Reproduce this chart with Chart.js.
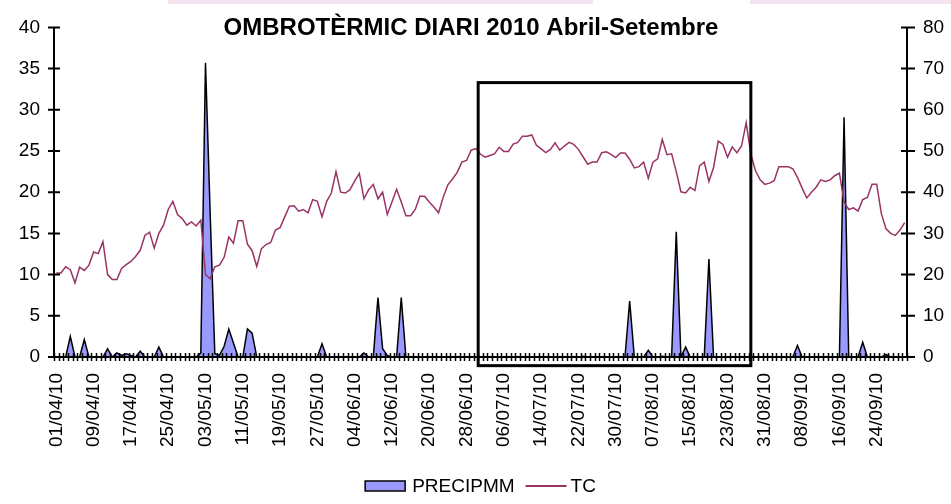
<!DOCTYPE html>
<html>
<head>
<meta charset="utf-8">
<script src="https://cdn.jsdelivr.net/npm/chart.js@4.4.1/dist/chart.umd.min.js"></script>
<style>
  html, body { margin: 0; padding: 0; background: #fff; }
  #wrap { position: relative; width: 951px; height: 504px; }
  .band { position: absolute; top: 0; height: 4px; background: #f3e4ef; }
</style>
</head>
<body>
<div id="wrap">
  <canvas id="chart" width="951" height="504"></canvas>
  <div class="band" style="left:168px;width:425px"></div>
  <div class="band" style="left:750px;width:201px"></div>
</div>
<script>
// daily categories 01/04/10 .. 30/09/10
const days = [];
for (let i = 0; i < 183; i++) {
    const d = new Date(Date.UTC(2010, 3, 1 + i));
    const dd = String(d.getUTCDate()).padStart(2, '0');
    const mm = String(d.getUTCMonth() + 1).padStart(2, '0');
    days.push(dd + '/' + mm + '/10');
}

const tickLabels = ['01/04/10', '09/04/10', '17/04/10', '25/04/10', '03/05/10', '11/05/10',
    '19/05/10', '27/05/10', '04/06/10', '12/06/10', '20/06/10', '28/06/10', '06/07/10',
    '14/07/10', '22/07/10', '30/07/10', '07/08/10', '15/08/10', '23/08/10', '31/08/10',
    '08/09/10', '16/09/10', '24/09/10'];

// precipitation, mm (left axis)
const precip = [
    0, 0, 0, 2.5, 0, 0, 2.1, 0, 0, 0,
    0, 1.0, 0, 0.5, 0.2, 0.4, 0.2, 0, 0.7, 0,
    0, 0, 1.2, 0, 0, 0, 0, 0, 0, 0,
    0, 0.5, 35.7, 17.5, 0.4, 0.2, 1.3, 3.4, 1.7, 0,
    0, 3.4, 2.9, 0, 0, 0, 0, 0, 0, 0,
    0, 0, 0, 0, 0, 0, 0, 1.6, 0, 0,
    0, 0, 0, 0, 0, 0, 0.5, 0, 0, 7.2,
    1.0, 0.2, 0, 0, 7.2, 0, 0, 0, 0, 0,
    0, 0, 0, 0, 0, 0, 0, 0, 0, 0,
    0, 0, 0, 0, 0, 0, 0, 0, 0, 0,
    0, 0, 0, 0, 0, 0, 0, 0, 0, 0,
    0, 0, 0, 0.1, 0, 0, 0, 0, 0, 0,
    0, 0, 0, 6.8, 0, 0, 0, 0.8, 0, 0,
    0.1, 0, 0, 15.2, 0, 1.2, 0, 0, 0, 0,
    11.9, 0, 0, 0, 0, 0, 0, 0, 0, 0,
    0, 0, 0, 0, 0, 0, 0, 0, 0, 1.4,
    0, 0, 0, 0, 0, 0, 0, 0, 0, 29.1,
    0, 0, 0, 1.8, 0, 0, 0, 0, 0.3, 0,
    0, 0, 0
];

// temperature (right axis)
const tc = [
    20.4, 20.4, 21.9, 21.2, 18.0, 21.8, 21.0, 22.3, 25.5, 25.1,
    28.0, 20.0, 18.8, 18.8, 21.5, 22.4, 23.2, 24.4, 25.9, 29.5,
    30.3, 26.4, 30.0, 32.0, 35.8, 37.8, 34.6, 33.6, 32.0, 32.8,
    31.8, 33.2, 20.0, 19.0, 21.9, 22.3, 24.2, 29.1, 27.6, 33.1,
    33.1, 27.4, 25.8, 22.0, 26.3, 27.3, 27.8, 30.8, 31.4, 34.0,
    36.6, 36.7, 35.4, 35.8, 35.0, 38.2, 37.8, 34.0, 37.8, 39.8,
    45.0, 40.0, 39.8, 40.6, 42.7, 44.6, 38.4, 40.6, 41.9, 38.4,
    40.0, 34.6, 37.6, 40.7, 37.6, 34.3, 34.3, 35.8, 39.0, 39.0,
    37.6, 36.4, 35.0, 38.8, 41.8, 43.2, 44.8, 47.3, 47.7, 50.2,
    50.6, 49.2, 48.5, 48.9, 49.3, 50.9, 49.9, 49.9, 51.7, 52.1,
    53.6, 53.6, 53.9, 51.4, 50.5, 49.6, 50.4, 52.0, 50.2, 51.2,
    52.1, 51.6, 50.4, 48.6, 46.8, 47.3, 47.3, 49.6, 49.8, 49.2,
    48.4, 49.5, 49.5, 48.0, 45.9, 46.2, 47.3, 43.4, 47.3, 48.1,
    52.8, 49.1, 49.3, 45.0, 40.1, 39.8, 41.2, 40.4, 46.4, 47.3,
    42.6, 46.0, 52.4, 51.6, 48.5, 51.0, 49.6, 51.2, 56.9, 49.2,
    45.2, 43.0, 41.9, 42.2, 42.8, 46.2, 46.2, 46.2, 45.7, 43.6,
    41.0, 38.6, 40.0, 41.2, 43.0, 42.6, 43.0, 44.0, 44.6, 37.6,
    35.8, 36.2, 35.4, 38.2, 38.7, 41.9, 41.9, 34.8, 31.1, 30.0,
    29.5, 30.8, 32.6
];

// highlighted period (category index, left-axis units)
const boxX = [90.5, 149];
const boxY = [-1.05, 33.3];

const FONT = '"Liberation Sans", Arial, sans-serif';
const TITLE = 'OMBROTÈRMIC DIARI 2010 Abril-Setembre';

const decor = {
    id: 'decor',
    afterDatasetsDraw(chart) {
        const { ctx, chartArea: a } = chart;
        const { x, y, y1 } = chart.scales;
        ctx.save();
        ctx.strokeStyle = '#000';

        // axis lines
        ctx.lineWidth = 2;
        ctx.beginPath();
        ctx.moveTo(a.left, a.top); ctx.lineTo(a.left, a.bottom);
        ctx.moveTo(a.right, a.top); ctx.lineTo(a.right, a.bottom);
        ctx.moveTo(a.left, a.bottom); ctx.lineTo(a.right, a.bottom);
        ctx.stroke();

        // crossing tick marks
        ctx.lineWidth = 1.5;
        ctx.beginPath();
        for (let i = 0; i <= days.length; i++) {
            const px = Math.round(x.getPixelForValue(i - 0.5)) + 0.5;
            ctx.moveTo(px, a.bottom - 4); ctx.lineTo(px, a.bottom + 4);
        }
        ctx.stroke();
        ctx.lineWidth = 2;
        ctx.beginPath();
        y.ticks.forEach(t => {
            const py = y.getPixelForValue(t.value);
            ctx.moveTo(a.left - 6, py); ctx.lineTo(a.left + 6, py);
        });
        y1.ticks.forEach(t => {
            const py = y1.getPixelForValue(t.value);
            ctx.moveTo(a.right - 6, py); ctx.lineTo(a.right + 8, py);
        });
        ctx.stroke();

        // box around summer period
        const bx0 = x.getPixelForValue(boxX[0]), bx1 = x.getPixelForValue(boxX[1]);
        const by0 = y.getPixelForValue(boxY[1]), by1 = y.getPixelForValue(boxY[0]);
        ctx.lineWidth = 3;
        ctx.strokeRect(bx0, by0, bx1 - bx0, by1 - by0);
        ctx.restore();
    },
    afterDraw(chart) {
        const { ctx, chartArea: a } = chart;
        ctx.save();
        // title
        ctx.fillStyle = '#000';
        ctx.font = 'bold 24px ' + FONT;
        ctx.textAlign = 'center';
        ctx.textBaseline = 'alphabetic';
        ctx.fillText(TITLE, chart.width / 2 - 4.5, 35);

        // legend
        ctx.font = '19px ' + FONT;
        const ds = chart.data.datasets;
        const w0 = ctx.measureText(ds[0].label).width;
        const w1 = ctx.measureText(ds[1].label).width;
        const total = 40 + 7 + w0 + 11 + 41 + 4 + w1;
        let lx = (a.left + a.right) / 2 - total / 2;
        const ly = 486;
        ctx.fillStyle = ds[0].backgroundColor;
        ctx.fillRect(lx, ly - 5, 40, 10);
        ctx.lineWidth = 1.5;
        ctx.strokeStyle = '#000';
        ctx.strokeRect(lx, ly - 5, 40, 10);
        lx += 47;
        ctx.fillStyle = '#000';
        ctx.textAlign = 'left';
        ctx.textBaseline = 'middle';
        ctx.fillText(ds[0].label, lx, ly + 1);
        lx += w0 + 11;
        ctx.strokeStyle = ds[1].borderColor;
        ctx.lineWidth = 2;
        ctx.beginPath();
        ctx.moveTo(lx, ly); ctx.lineTo(lx + 41, ly);
        ctx.stroke();
        lx += 45;
        ctx.fillText(ds[1].label, lx, ly + 1);
        ctx.restore();
    }
};

new Chart(document.getElementById('chart'), {
    type: 'line',
    data: {
        labels: days,
        datasets: [
            { label: 'PRECIPMM', data: precip, yAxisID: 'y', fill: 'origin',
              backgroundColor: '#9999ff', borderColor: '#000', borderWidth: 1.5,
              pointRadius: 0, tension: 0, order: 2 },
            { label: 'TC', data: tc, yAxisID: 'y1', fill: false,
              borderColor: '#993366', borderWidth: 1.5,
              pointRadius: 0, tension: 0, order: 1 }
        ]
    },
    options: {
        responsive: false,
        animation: false,
        devicePixelRatio: 1,
        layout: { padding: { top: 23, left: 0, right: 0, bottom: 0 } },
        plugins: { legend: { display: false }, title: { display: false }, tooltip: { enabled: false } },
        scales: {
            x: {
                type: 'category',
                offset: true,
                grid: { display: false, drawTicks: false },
                border: { display: false },
                ticks: {
                    autoSkip: false, minRotation: 90, maxRotation: 90, padding: 16,
                    color: '#000', font: { family: FONT, size: 19 },
                    callback: (v, i) => tickLabels.includes(days[i]) ? days[i] : null
                },
                afterFit: s => { s.height = 147; }
            },
            y: {
                position: 'left', min: 0, max: 40,
                grid: { drawOnChartArea: false, drawTicks: false },
                border: { display: false },
                ticks: { stepSize: 5, padding: 14, color: '#000', font: { family: FONT, size: 19 } },
                afterFit: s => { s.width = 54; }
            },
            y1: {
                position: 'right', min: 0, max: 80,
                grid: { drawOnChartArea: false, drawTicks: false },
                border: { display: false },
                ticks: { stepSize: 10, padding: 16, color: '#000', font: { family: FONT, size: 19 } },
                afterFit: s => { s.width = 44; }
            }
        }
    },
    plugins: [decor]
});
</script>
</body>
</html>
